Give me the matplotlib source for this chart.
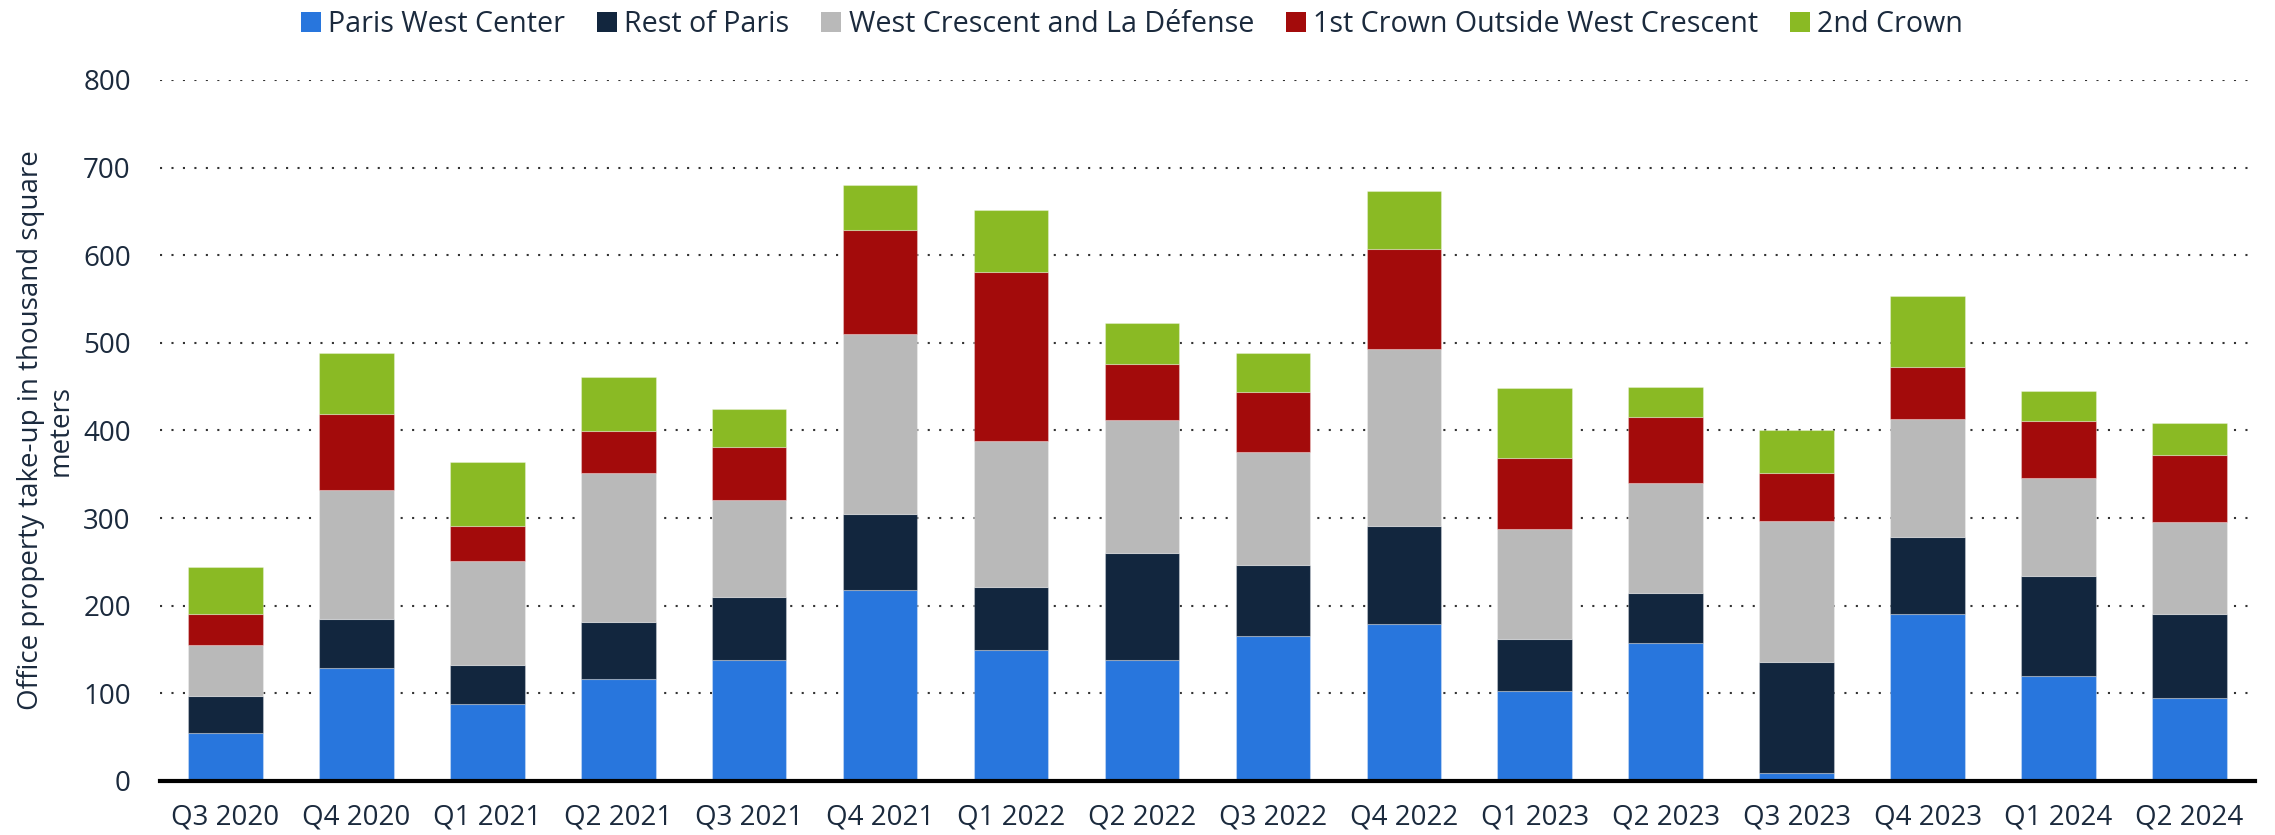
import matplotlib.pyplot as plt
import numpy as np

quarters = ['Q3 2020', 'Q4 2020', 'Q1 2021', 'Q2 2021', 'Q3 2021', 'Q4 2021',
            'Q1 2022', 'Q2 2022', 'Q3 2022', 'Q4 2022', 'Q1 2023', 'Q2 2023',
            'Q3 2023', 'Q4 2023', 'Q1 2024', 'Q2 2024']

paris_west = [55, 129, 88, 116, 138, 218, 149, 138, 166, 179, 103, 158, 9, 191, 120, 95]
rest_paris = [42, 56, 44, 65, 72, 87, 72, 122, 81, 112, 59, 56, 127, 88, 114, 95]
west_crescent = [58, 147, 119, 171, 111, 205, 167, 152, 128, 202, 126, 126, 161, 134, 112, 106]
first_crown = [35, 87, 40, 47, 60, 119, 193, 64, 69, 114, 81, 75, 54, 59, 65, 76]
second_crown = [54, 69, 73, 62, 43, 51, 71, 47, 44, 66, 79, 35, 50, 81, 34, 37]

series_names = ['Paris West Center', 'Rest of Paris', 'West Crescent and La Défense',
                '1st Crown Outside West Crescent', '2nd Crown']
colors = ['#2876dd', '#12263e', '#b9b9b9', '#a30b0b', '#8aba24']

text_col = '#1b2a3d'


def main():
    plt.rcParams['font.family'] = ['Open Sans', 'DejaVu Sans']
    fig = plt.figure(figsize=(22.75, 8.35), dpi=100)
    ax = fig.add_axes([0.0703, 0.0647, 0.9209, 0.8395])

    x = np.arange(len(quarters))
    bottom = np.zeros(len(quarters))
    handles = []
    for name, vals, c in zip(series_names,
                             [paris_west, rest_paris, west_crescent, first_crown, second_crown],
                             colors):
        b = ax.bar(x, vals, 0.57, bottom=bottom, color=c, label=name, zorder=3,
                   edgecolor=(1, 1, 1, 0.3), linewidth=0.8)
        handles.append(b)
        bottom = bottom + np.array(vals)

    ax.set_xlim(-0.5, len(quarters) - 0.5)
    ax.set_ylim(0, 800)
    ax.set_yticks(range(0, 801, 100))
    ax.set_xticks(x)
    ax.set_xticklabels(quarters)
    ax.tick_params(axis='both', length=0, labelsize=20, labelcolor=text_col)
    ax.tick_params(axis='y', pad=21)
    ax.tick_params(axis='x', pad=16)

    ax.yaxis.grid(True, linestyle=(0, (1, 4.5)), color='#333333', linewidth=1.5, zorder=0)
    for s in ['top', 'right', 'left']:
        ax.spines[s].set_visible(False)
    ax.spines['bottom'].set_linewidth(3)
    ax.spines['bottom'].set_color('black')
    ax.spines['bottom'].set_zorder(4)

    ax.set_ylabel('Office property take-up in thousand square\nmeters', fontsize=20,
                  color=text_col, labelpad=6, linespacing=1.1)

    # legend on top, centred on the figure
    leg = fig.legend(handles=handles, loc='center', bbox_to_anchor=(0.4976, 0.971), ncol=5,
                     frameon=False, fontsize=20.6, labelcolor=text_col,
                     handlelength=0.7, handleheight=0.7, handletextpad=0.25, columnspacing=1.12)
    for h in leg.legend_handles:
        h.set_edgecolor('none')

    plt.savefig('out.png', dpi=100)


if __name__ == '__main__':
    main()
